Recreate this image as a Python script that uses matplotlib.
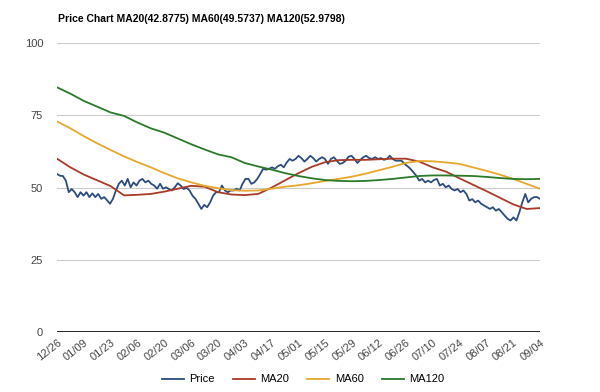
import numpy as np
import matplotlib.pyplot as plt

# tick labels (every second week)
dates = ['12/26', '01/09', '01/23', '02/06', '02/20', '03/06', '03/20', '04/03', '04/17',
         '05/01', '05/15', '05/29', '06/12', '06/26', '07/10', '07/24', '08/07', '08/21', '09/04']

# daily close
price = [54.7, 54.1, 54.0, 52.4, 48.4, 49.5, 48.4, 46.7, 48.4, 47.2, 48.4, 46.7, 48.0, 46.7,
         47.8, 46.1, 46.7, 45.6, 44.4, 46.1, 49.0, 51.3, 52.4, 50.7, 53.0, 50.1, 51.8, 50.7,
         52.4, 53.0, 51.8, 52.4, 51.3, 50.7, 49.6, 51.3, 49.6, 50.1,
         49.5, 49.0, 50.1, 51.5, 50.7, 49.5, 49.9, 49.0, 47.2, 46.1, 44.4, 42.6, 44.0, 43.2,
         44.9, 47.2, 48.4, 48.4, 50.7, 49.0, 48.4, 49.0, 49.0, 49.6, 49.0, 51.3, 53.0, 53.0,
         51.3, 51.8, 53.0, 54.7, 56.5, 56.2, 56.5, 57.0, 56.5, 57.4, 57.9, 57.0, 58.7, 59.9, 59.3,
         59.9, 61.0, 60.2, 59.0, 59.9, 61.0, 60.2, 59.0, 59.9, 60.5, 59.9, 58.2, 59.9, 60.5,
         59.3, 58.2, 58.5, 59.3, 60.7, 61.0, 59.9, 58.5, 59.6, 60.5, 61.0, 60.2, 59.9, 60.5,
         59.9, 60.2, 59.6, 59.9, 61.0, 59.9, 59.3, 59.3, 59.3, 58.2, 57.4,
         56.5, 55.3, 54.1, 52.4, 53.0, 51.8, 52.4, 51.8, 52.6, 53.0, 50.7, 51.3, 50.1, 50.7,
         49.5, 49.0, 49.5, 48.4, 49.0, 47.8, 45.5, 46.0, 44.9, 45.5, 44.4, 43.8, 43.2, 42.6,
         43.2, 42.0, 42.6, 41.5, 40.3, 39.2, 38.6, 39.7, 38.6, 41.5, 44.9, 47.8, 44.9, 46.1,
         46.7, 46.7, 46.1]

# moving averages, read every half tick
ma20 = [60.0, 57.0, 54.5, 52.5, 50.5, 47.3, 47.5, 47.8, 48.6, 49.6, 50.6, 50.3, 48.4, 47.6,
        47.4, 47.8, 50.0, 52.5, 55.0, 57.2, 58.8, 59.5, 59.6, 59.6, 59.8, 60.0, 60.0, 59.0,
        57.0, 55.5, 53.2, 51.0, 48.8, 46.5, 44.2, 42.6, 42.9]
ma60 = [72.9, 70.5, 67.8, 65.3, 63.0, 60.8, 58.8, 57.0, 55.0, 53.2, 51.8, 50.6, 49.8, 49.1,
        48.9, 49.0, 49.6, 50.3, 50.8, 51.5, 52.3, 53.0, 53.8, 54.8, 56.0, 57.2, 58.5, 59.2,
        59.1, 58.7, 58.2, 57.0, 55.8, 54.5, 53.0, 51.3, 49.6]
ma120 = [84.7, 82.5, 80.0, 78.0, 76.0, 74.8, 72.5, 70.5, 69.0, 67.0, 65.0, 63.2, 61.5, 60.5,
         58.5, 57.3, 56.2, 55.0, 54.0, 53.2, 52.6, 52.3, 52.2, 52.3, 52.6, 53.0, 53.5, 54.0,
         54.2, 54.2, 54.1, 54.0, 53.7, 53.3, 53.0, 52.9, 53.0]

plt.rcParams['font.family'] = ['Liberation Sans', 'DejaVu Sans']

fig = plt.figure(figsize=(6, 3.92), dpi=100)
ax = fig.add_axes([0.095, 0.153, 0.805, 0.737])

x_price = np.linspace(0, len(dates) - 1, len(price))
x_ma = np.arange(len(ma20)) * 0.5

ax.plot(x_price, price, color='#2b4c7e', lw=1.3, label='Price')
ax.plot(x_ma, ma20, color='#a83a26', lw=1.3, label='MA20')
ax.plot(x_ma, ma60, color='#e6a72a', lw=1.3, label='MA60')
ax.plot(x_ma, ma120, color='#2a7a2a', lw=1.3, label='MA120')

ax.set_xlim(0, len(dates) - 1)
ax.set_ylim(0, 100)
ax.set_yticks([0, 25, 50, 75, 100])
ax.set_xticks(range(len(dates)))
ax.set_xticklabels(dates, rotation=38, ha='right', rotation_mode='anchor', fontsize=7.5, color='#333333')
ax.tick_params(axis='both', length=0, labelsize=8, labelcolor='#444444')
ax.tick_params(axis='y', pad=10)
ax.tick_params(axis='x', pad=4)

ax.grid(axis='y', color='#cccccc', lw=0.8)
ax.axhline(0, color='black', lw=1.2)
for s in ax.spines.values():
    s.set_visible(False)

fig.text(0.097, 0.952, 'Price Chart MA20(42.8775) MA60(49.5737) MA120(52.9798)',
         fontsize=7.5, fontweight='bold', ha='left', va='center')

fig.legend(loc='center', bbox_to_anchor=(0.505, 0.032), ncol=4, frameon=False,
           fontsize=8, handlelength=2.0, columnspacing=1.6, handletextpad=0.5)

plt.savefig('out.png', dpi=100)
